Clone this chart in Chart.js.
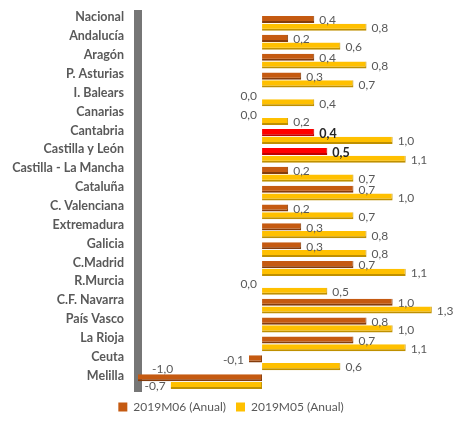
<!DOCTYPE html>
<html><head><meta charset="utf-8">
<script src="https://cdn.jsdelivr.net/npm/chart.js@4"></script>
<style>html,body{margin:0;padding:0;background:#fff}</style>
</head><body>
<canvas id="c" width="454" height="423"></canvas>
<script>
const categories = ['Nacional','Andalucía','Aragón','P. Asturias','I. Balears','Canarias','Cantabria','Castilla y León','Castilla - La Mancha','Cataluña','C. Valenciana','Extremadura','Galicia','C.Madrid','R.Murcia','C.F. Navarra','País Vasco','La Rioja','Ceuta','Melilla'];
const series2019M06 = [0.4,0.2,0.4,0.3,0.0,0.0,0.4,0.5,0.2,0.7,0.2,0.3,0.3,0.7,0.0,1.0,0.8,0.7,-0.1,-1.0];
const series2019M05 = [0.8,0.6,0.8,0.7,0.4,0.2,1.0,1.1,0.7,1.0,0.7,0.8,0.8,1.1,0.5,1.3,1.0,1.1,0.6,-0.7];
const seriesNames = ['2019M06 (Anual)','2019M05 (Anual)'];
const highlighted = ['Cantabria','Castilla y León'];

Chart.defaults.font.family = 'Lato';
const ORANGE = '#C55A11', ORANGE_DARK = '#843C0C';
const YELLOW = '#FFC000', YELLOW_DARK = '#BF9000';
const RED = '#FF0000', RED_DARK = '#C00000';

const valueLabels = {
  id: 'valueLabels',
  afterDatasetsDraw(chart) {
    const ctx = chart.ctx, area = chart.chartArea;
    chart.data.datasets.forEach((ds, di) => {
      const meta = chart.getDatasetMeta(di);
      meta.data.forEach((bar, i) => {
        const v = ds.data[i];
        const txt = v.toFixed(1).replace('.', ',');
        const hl = di === 0 && highlighted.includes(categories[i]);
        ctx.save();
        ctx.font = (hl ? 'bold 12.5px' : '12px') + ' Lato';
        ctx.fillStyle = hl ? '#262626' : '#595959';
        ctx.textBaseline = 'middle';
        let x, y = bar.y + 1;
        if (v > 0) { ctx.textAlign = 'left'; x = bar.x + 5; }
        else {
          ctx.textAlign = 'right';
          x = Math.min(bar.x, bar.base) - 5;
          if (x - ctx.measureText(txt).width < area.left) { ctx.textAlign = 'left'; x = area.left + 14; y = bar.y - 9; }
        }
        ctx.fillText(txt, x, y);
        ctx.restore();
      });
    });
  }
};

new Chart(document.getElementById('c'), {
  type: 'bar',
  data: {
    labels: categories,
    datasets: [
      {
        label: seriesNames[0],
        data: series2019M06,
        backgroundColor: categories.map(c => highlighted.includes(c) ? RED : ORANGE),
        borderColor: categories.map(c => highlighted.includes(c) ? RED_DARK : ORANGE_DARK),
        borderWidth: {top: 0, right: 1, bottom: 2, left: 0},
        borderSkipped: false,
        categoryPercentage: 0.82, barPercentage: 0.92
      },
      {
        label: seriesNames[1],
        data: series2019M05,
        backgroundColor: YELLOW,
        borderColor: YELLOW_DARK,
        borderWidth: {top: 0, right: 1, bottom: 2, left: 0},
        borderSkipped: false,
        categoryPercentage: 0.82, barPercentage: 0.92
      }
    ]
  },
  options: {
    responsive: false,
    animation: false,
    indexAxis: 'y',
    layout: {padding: {top: 14, right: 0, left: 8, bottom: 0}},
    scales: {
      x: {display: false, min: -0.95, max: 1.47},
      y: {
        grid: {display: false, drawTicks: false},
        border: {display: true, color: '#767676', width: 8},
        ticks: {color: '#595959', font: {family: 'Lato', weight: 'bold', size: 12.5}, padding: 14, labelOffset: -6, autoSkip: false},
        afterFit(s) { s.width = 130; s.paddingTop = 0; s.paddingBottom = 0; }
      }
    },
    plugins: {
      tooltip: {enabled: false},
      legend: {
        position: 'bottom',
        maxHeight: 32,
        labels: {
          boxWidth: 9, boxHeight: 9, padding: 10, color: '#595959',
          font: {family: 'Lato', size: 12},
          generateLabels(chart) {
            const items = Chart.defaults.plugins.legend.labels.generateLabels(chart);
            items.forEach(it => { it.lineWidth = 0; it.strokeStyle = 'rgba(0,0,0,0)'; });
            return items;
          }
        }
      }
    }
  },
  plugins: [valueLabels]
});
</script>
</body></html>
